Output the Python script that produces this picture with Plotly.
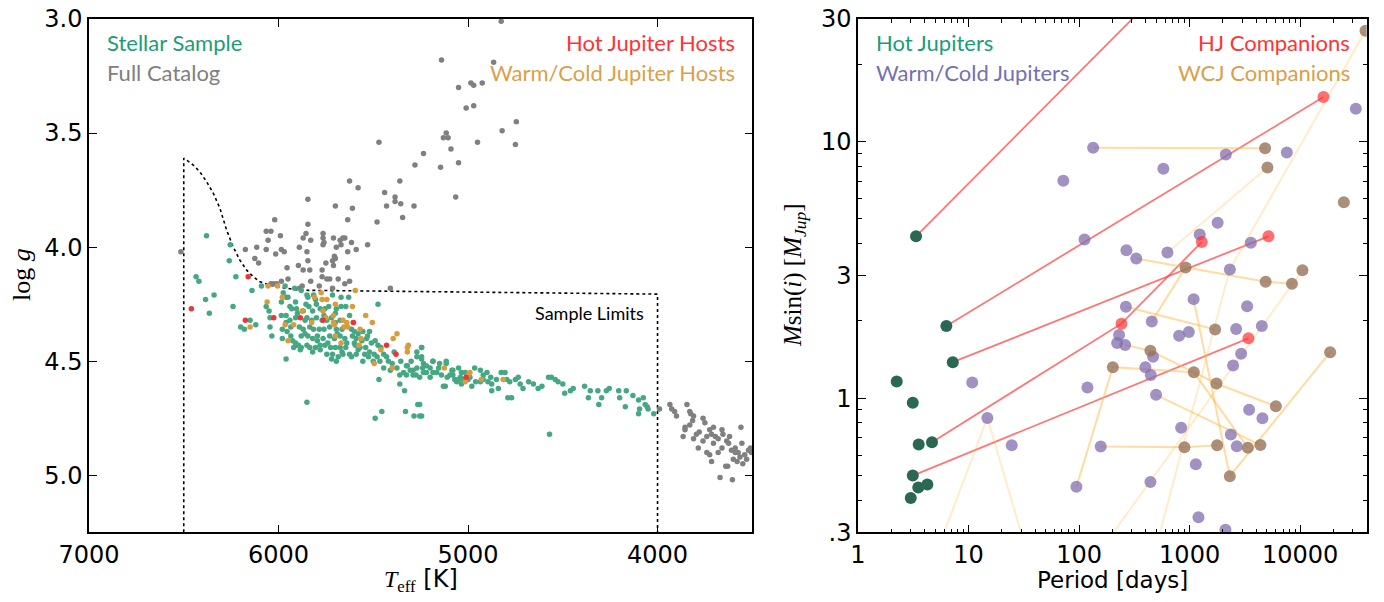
import plotly.graph_objects as go

# ---------------- Left panel data (Teff [K], log g) ----------------
full_T = [5140,5050,5470,5235,5280,5145,5130,5115,5105,5090,5050,5065,5625,5580,5440,5360,5385,5385,5430,5355,
          5285,5345,5480,5845,5700,5610,5635,6020,5845,6065,6040,5990,6055,5855,5870,5830,5765,5765,5710,5675,
          5660,5650,5615,5530,5760,5765,5670,5695,6115,6175,6065,5985,5970,6015,5890,5850,5635,5590,6125,6105,
          5705,5700,5715,5845,5750,5710,5955,5895,5870,5835,5635,5770,5770,5745,5730,5685,5830,5950,5985,5650,
          5625,5785,5715,5875,5890,5410,6040,6025,6010,6515,4825,4865,4985,4970,4925,5010,4970,4745,4820,4750,
          4950,
          3990,3935,3925,3910,3900,3845,3830,3825,3810,3815,3830,3855,3855,3865,3760,3750,3780,3740,3725,3705,
          3715,3695,3680,3660,3655,3705,3740,3785,3810,3725,3715,3660,3635,3625,3620,3610,3590,3575,3560,3555,
          3565,3580,3540,3520,3510,3640,3630,3670,3605,3590,3680,3760,3795,3505,3530,3550,3600]
full_g = [3.18,3.30,3.54,3.59,3.64,3.65,3.52,3.50,3.52,3.57,3.63,3.78,3.71,3.74,3.76,3.71,3.78,3.80,3.82,3.81,
          3.82,3.87,3.89,3.79,3.82,3.83,3.88,3.88,3.90,3.93,3.93,3.95,3.97,3.94,3.96,3.97,3.94,3.96,3.96,3.97,
          3.96,3.96,3.98,3.99,3.98,3.99,3.99,4.00,4.00,4.01,4.01,4.01,4.02,4.03,4.00,4.02,4.02,4.01,4.05,4.07,
          4.04,4.05,4.06,4.06,4.07,4.08,4.09,4.08,4.10,4.10,4.09,4.10,4.13,4.14,4.14,4.14,4.15,4.14,4.15,4.16,
          4.15,4.17,4.18,4.17,4.18,4.18,4.16,4.16,4.16,4.02,3.01,3.19,3.28,3.29,3.28,3.39,3.38,3.45,3.49,3.55,
          3.54,
          4.71,4.69,4.71,4.72,4.74,4.69,4.72,4.73,4.74,4.76,4.78,4.79,4.80,4.83,4.75,4.77,4.81,4.83,4.80,4.79,
          4.82,4.83,4.84,4.80,4.82,4.86,4.90,4.88,4.84,4.91,4.94,4.88,4.85,4.86,4.83,4.89,4.90,4.90,4.79,4.86,
          4.92,4.94,4.91,4.89,4.88,4.96,4.96,5.01,5.02,4.88,4.90,4.85,4.82,4.90,4.93,4.95,4.93]

samp_T = [6380,6255,6260,6225,6435,6420,6385,6340,6365,6240,6140,6090,6200,6180,6150,6120,6065,6050,6045,6045,
          6035,5985,5975,5965,5960,5950,5915,5880,5850,5845,5815,5805,5715,5670,5630,5940,5930,5905,5900,5910,
          5940,5960,5935,5980,5955,5980,5935,5925,5910,5895,5885,5920,5960,5870,5855,5840,5820,5800,5780,5755,
          5735,5695,5670,5645,5850,5825,5800,5770,5745,5720,5700,5675,5870,5835,5815,5785,5760,5730,5695,5665,
          5880,5845,5820,5795,5765,5730,5705,5675,5650,5905,5880,5850,5835,5805,5780,5755,5725,5700,5675,5645,
          5780,5745,5715,5685,5660,5625,5720,5695,5665,5615,5615,5610,5590,5560,5535,5520,5555,5580,5595,5570,
          5540,5520,5490,5475,5460,5445,5495,5555,5590,5525,5475,5445,5420,5410,5375,5340,5305,5270,5235,5220,
          5255,5290,5325,5360,5480,5470,5360,5335,5265,5455,5330,5285,5255,5245,5270,5850,5490,5120,5245,5185,
          5220,5150,5115,5080,5095,5050,5200,5235,5290,5325,5270,
          5245,5245,5185,5185,5155,5115,5085,5080,5050,5035,5015,5025,4990,4965,4935,4920,4900,4895,4875,4850,
          4825,4805,4795,4780,4750,4735,4725,4710,4680,4655,4630,4610,4575,4560,4540,4525,4500,4490,4460,4445,
          4385,4355,4365,4315,4295,4270,4255,4310,4205,4200,4170,4165,4130,4100,4095,4075,4065,4055,4050,4020,
          4100,5130,5255,5245,4790,4770,4570,4935,4980,4840,4875,5035,5060,
          5600,5580,5545,5510,5500,5465,5430,5400,5390,5355,5320,5300,5275,5240,5200,5165,5140,5110,5070,5040,
          5000,4960,4920,4880,5890,5860,5795,5740,5690,5640,5960,5910,5760,5700,5625,5600,5530,5860,5985,5820]
samp_g = [3.95,3.99,4.06,4.13,4.13,4.15,4.23,4.21,4.29,4.26,4.19,4.17,4.35,4.36,4.32,4.34,4.26,4.28,4.31,4.35,
          4.39,4.24,4.20,4.17,4.22,4.22,4.18,4.19,4.21,4.22,4.21,4.23,4.21,4.22,4.22,4.26,4.27,4.27,4.29,4.31,
          4.32,4.33,4.35,4.36,4.37,4.40,4.39,4.41,4.42,4.43,4.45,4.44,4.49,4.28,4.25,4.26,4.28,4.25,4.27,4.27,
          4.26,4.27,4.26,4.26,4.31,4.32,4.31,4.32,4.32,4.31,4.33,4.32,4.36,4.35,4.36,4.36,4.36,4.35,4.36,4.36,
          4.39,4.39,4.40,4.39,4.40,4.39,4.40,4.39,4.40,4.43,4.44,4.43,4.44,4.44,4.43,4.43,4.44,4.44,4.44,4.44,
          4.45,4.47,4.47,4.48,4.47,4.47,4.49,4.50,4.46,4.48,4.36,4.39,4.40,4.41,4.40,4.37,4.37,4.38,4.43,4.44,
          4.44,4.46,4.41,4.43,4.44,4.47,4.47,4.50,4.47,4.48,4.25,4.53,4.50,4.54,4.53,4.55,4.54,4.53,4.51,4.55,
          4.57,4.56,4.56,4.56,4.48,4.58,4.60,4.63,4.69,4.72,4.72,4.74,4.74,4.48,4.46,4.68,4.75,4.61,4.44,4.50,
          4.52,4.51,4.50,4.54,4.56,4.58,4.57,4.55,4.54,4.52,4.48,
          4.44,4.49,4.50,4.55,4.53,4.51,4.54,4.56,4.53,4.55,4.55,4.58,4.57,4.53,4.54,4.56,4.55,4.59,4.60,4.58,
          4.55,4.55,4.58,4.59,4.58,4.57,4.60,4.62,4.59,4.60,4.62,4.61,4.57,4.57,4.58,4.59,4.60,4.64,4.63,4.62,
          4.61,4.63,4.66,4.63,4.66,4.63,4.62,4.69,4.63,4.66,4.70,4.63,4.65,4.67,4.71,4.66,4.69,4.70,4.71,4.73,
          4.73,4.61,4.69,4.74,4.66,4.66,4.82,4.59,4.61,4.62,4.63,4.60,4.59,
          4.42,4.45,4.47,4.42,4.50,4.50,4.48,4.51,4.46,4.50,4.52,4.50,4.56,4.53,4.53,4.55,4.56,4.57,4.58,4.57,
          4.58,4.59,4.58,4.57,4.35,4.38,4.41,4.42,4.38,4.42,4.30,4.24,4.30,4.29,4.30,4.37,4.39,4.32,4.30,4.46]

wcjh_T = [6055,6005,6060,5980,6150,5875,5810,5770,5775,5745,5710,5700,5765,5750,5705,5660,5655,5635,5610,5595,
          5965,5920,5825,5700,5950,5670,5575,5565,5540,5505,5570,5395,5375,5315,5320,5320,5460,5495,5400,5125,
          5015,5000,4990,4930,4815,5710,5640,5605]
wcjh_g = [4.17,4.17,4.24,4.22,4.35,4.28,4.22,4.23,4.20,4.23,4.30,4.25,4.28,4.31,4.34,4.32,4.35,4.35,4.26,4.19,
          4.34,4.34,4.33,4.39,4.41,4.42,4.43,4.40,4.30,4.33,4.36,4.40,4.38,4.43,4.44,4.46,4.45,4.51,4.53,4.53,
          4.59,4.56,4.55,4.58,4.58,4.33,4.33,4.33]

hjh_T = [6460,6160,6175,6025,5885,5765,5605,5430,5380,5010]
hjh_g = [4.27,4.13,4.32,4.31,4.31,4.32,4.33,4.43,4.47,4.57]

limit_T = [6500,6500,6485,6450,6415,6379,6344,6309,6274,6239,6204,6168,6133,6098,6063,6010,5887,4000,4000]
limit_g = [5.25,3.61,3.618,3.64,3.67,3.714,3.764,3.83,3.925,3.999,4.057,4.101,4.13,4.152,4.162,4.174,4.189,4.206,5.25]

# ---------------- Right panel data (Period [d], Msini [MJup]) ----------------
hj_P = [3.35, 6.3, 7.2, 2.24, 3.13, 3.54, 4.67, 3.13, 3.51, 4.24, 3.0]
hj_M = [4.27, 1.91, 1.38, 1.16, 0.96, 0.66, 0.673, 0.499, 0.448, 0.461, 0.408]

hjc_P = [3000, 16250, 5165, 242, 1290, 3405]
hjc_M = [81, 14.9, 4.27, 1.95, 4.06, 1.71]
hjc_host = [0, 1, 2, 6, 6, 7]

wcj_P = [72,134,2128,7580,579,31900,1792,1234,3580,112,268,329,630,2311,1087,265,3313,455,2636,4500,
         804,984,230,221,261,467,2925,2475,398,445,497,3455,4560,838,2360,2673,157,1138,442,1202,
         2109,10.8,119,14.8,24.6,94.6]
wcj_M = [7.03,9.45,8.9,9.06,7.82,13.4,4.82,4.34,4.03,4.15,3.77,3.50,3.69,3.17,2.43,2.27,2.28,1.99,1.86,1.91,
         1.75,1.81,1.76,1.64,1.61,1.45,1.49,1.34,1.32,1.23,1.03,0.90,0.834,0.767,0.721,0.649,0.648,0.552,0.471,0.343,
         0.307,1.15,1.10,0.837,0.655,0.451]

wcjc_P = [4820,5060,24850,39000,920,4875,8430,10490,1702,442,202,1092,1749,6030,18680,897,1774,3363,4373,2311,
          274,32.6,2.3,63]
wcjc_M = [9.4,7.92,5.79,27.0,3.23,2.84,2.79,3.15,1.85,1.53,1.32,1.26,1.14,0.929,1.51,0.643,0.655,0.641,0.656,0.496,
          0.1,0.1,0.1,0.1]
wcjc_host = [1,12,-1,13,17,11,11,27,15,24,45,45,24,24,14,36,36,45,30,14,
             13,27,43,43]
faint_hosts = [12, 13, 27, 43]

# ---------------- Figure ----------------
# body margin is removed by the post script, so the figure fills the 1384x602 window
W, H = 1384, 602
fig = go.Figure()

def px_x(X):
    return X / W

def px_y(Y):
    return 1 - Y / H

XL = [px_x(89), px_x(752.3)]
XR = [px_x(858), px_x(1366.7)]
YD = [px_y(532.3), px_y(19)]

# left panel
fig.add_trace(go.Scatter(x=limit_T, y=limit_g, mode="lines",
                         line=dict(color="black", width=1.6, dash="dot"),
                         xaxis="x", yaxis="y", hoverinfo="skip"))
for T, g, col in [(full_T, full_g, "#808080"), (samp_T, samp_g, "#45a883"),
                  (wcjh_T, wcjh_g, "#d99b3c"), (hjh_T, hjh_g, "#ee3535")]:
    fig.add_trace(go.Scatter(x=T, y=g, mode="markers", xaxis="x", yaxis="y",
                             marker=dict(size=5.5, color=col, line=dict(width=0))))

# right panel lines: HJ systems
for h in range(len(hj_P)):
    pts = [(hj_P[h], hj_M[h])] + [(hjc_P[k], hjc_M[k]) for k in range(len(hjc_P)) if hjc_host[k] == h]
    if len(pts) < 2:
        continue
    pts.sort()
    fig.add_trace(go.Scatter(x=[p[0] for p in pts], y=[p[1] for p in pts], mode="lines",
                             line=dict(color="rgba(255,60,60,0.7)", width=1.8),
                             xaxis="x2", yaxis="y2", hoverinfo="skip"))
# WCJ systems
for h in range(len(wcj_P)):
    pts = [(wcj_P[h], wcj_M[h])] + [(wcjc_P[k], wcjc_M[k]) for k in range(len(wcjc_P)) if wcjc_host[k] == h]
    if len(pts) < 2:
        continue
    pts.sort()
    a = 0.28 if h in faint_hosts else 0.5
    fig.add_trace(go.Scatter(x=[p[0] for p in pts], y=[p[1] for p in pts], mode="lines",
                             line=dict(color="rgba(255,185,70,%.2f)" % a, width=2),
                             xaxis="x2", yaxis="y2", hoverinfo="skip"))

fig.add_trace(go.Scatter(x=wcj_P, y=wcj_M, mode="markers", xaxis="x2", yaxis="y2",
                         marker=dict(size=12, color="rgba(130,110,175,0.75)", line=dict(width=0))))
fig.add_trace(go.Scatter(x=wcjc_P, y=wcjc_M, mode="markers", xaxis="x2", yaxis="y2",
                         marker=dict(size=12, color="rgba(150,115,90,0.8)", line=dict(width=0))))
fig.add_trace(go.Scatter(x=hjc_P, y=hjc_M, mode="markers", xaxis="x2", yaxis="y2",
                         marker=dict(size=12, color="rgba(255,50,50,0.7)", line=dict(width=0))))
fig.add_trace(go.Scatter(x=hj_P, y=hj_M, mode="markers", xaxis="x2", yaxis="y2",
                         marker=dict(size=12, color="#2a6853", line=dict(width=0))))

tickfont = dict(family="DejaVu Sans", size=24, color="black")
common = dict(showgrid=False, zeroline=False, showline=True, linecolor="black", linewidth=1.5,
              mirror="allticks", ticks="inside", ticklen=8, tickwidth=1.2, tickcolor="black",
              tickfont=tickfont, automargin=False, ticklabeloverflow="allow")

minor_x = [m * 10 ** d for d in range(0, 5) for m in range(2, 10) if m * 10 ** d <= 40000]
minor_y = [0.4, 0.5, 0.6, 0.7, 0.8, 0.9, 2, 4, 5, 6, 7, 8, 9, 20]

fig.update_layout(
    width=W, height=H, margin=dict(l=0, r=0, t=0, b=0, pad=0, autoexpand=False),
    paper_bgcolor="white", plot_bgcolor="white", showlegend=False,
    xaxis=dict(domain=XL, range=[7000, 3500], tickvals=[7000, 6000, 5000, 4000],
               ticktext=["7000", "6000", "5000", "4000"], anchor="y", **common),
    yaxis=dict(domain=YD, range=[5.25, 3.0], tickvals=[3.0, 3.5, 4.0, 4.5, 5.0],
               ticktext=["3.0", "3.5", "4.0", "4.5", "5.0"], anchor="x", **common),
    xaxis2=dict(domain=XR, type="log", range=[0, 4.602], tickvals=[1, 10, 100, 1000, 10000],
                ticktext=["1", "10", "100", "1000", "10000"], anchor="y2",
                minor=dict(tickvals=minor_x, ticks="inside", ticklen=4, tickcolor="black", showgrid=False),
                **common),
    yaxis2=dict(domain=YD, type="log", range=[-0.5229, 1.4771], tickvals=[0.3, 1, 3, 10, 30],
                ticktext=[".3", "1", "3", "10", "30"], anchor="x2",
                minor=dict(tickvals=minor_y, ticks="inside", ticklen=4, tickcolor="black", showgrid=False),
                **common),
)

def ann(text, px, py, color, size, anchor="left", family="Lato", angle=0):
    fig.add_annotation(text=text, x=px_x(px), y=px_y(py), xref="paper", yref="paper",
                       xanchor=anchor, yanchor="middle", showarrow=False, textangle=angle,
                       font=dict(family=family, size=size, color=color))

ann("Stellar Sample", 105, 43, "#1b9e77", 22)
ann("Full Catalog", 105, 72, "#808080", 22)
ann("Hot Jupiter Hosts", 737, 43, "#ff3333", 22, "right")
ann("Warm/Cold Jupiter Hosts", 737, 72, "#dba04a", 22, "right")
ann("Sample Limits", 646, 313, "black", 18, "right")

ann("Hot Jupiters", 874, 43, "#1b9e77", 22)
ann("Warm/Cold Jupiters", 874, 72, "#7570b3", 22)
ann("HJ Companions", 1352, 43, "#ff3333", 22, "right")
ann("WCJ Companions", 1352, 72, "#d9a04a", 22, "right")

ann('log <i>g</i>', 21, 275, "black", 26, "center", "Liberation Serif", -90)
ann('<span style="font-family:Liberation Serif"><i>T</i><sub>eff</sub></span> [K]', 421, 580, "black", 24,
    "center", "DejaVu Sans")
ann("Period [days]", 1112, 580, "black", 23, "center", "DejaVu Sans")
ann('<i>M</i>sin(<i>i</i>) [<i>M<sub>Jup</sub></i>]', 794, 275, "black", 25, "center", "Liberation Serif", -90)

fig.write_html("out.html", config={"displayModeBar": False},
               post_script="document.body.style.margin='0px';document.body.style.overflow='hidden';")
